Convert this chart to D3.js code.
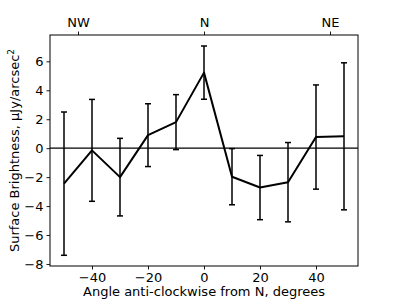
<!DOCTYPE html>
<html>
<head>
<meta charset="utf-8">
<script src="https://cdn.jsdelivr.net/npm/d3@7"></script>
<style>
  body { margin: 0; background: #fff; }
  svg text { font-family: "DejaVu Sans", sans-serif; }
</style>
</head>
<body>
<div id="chart"></div>
<script>
var angles = [-50, -40, -30, -20, -10, 0, 10, 20, 30, 40, 50];
var brightness = [-2.45, -0.15, -2.0, 0.9, 1.8, 5.22, -1.97, -2.72, -2.35, 0.77, 0.82];
var errors = [4.95, 3.52, 2.68, 2.17, 1.9, 1.84, 1.94, 2.22, 2.74, 3.6, 5.08];
var yTicks = [-8, -6, -4, -2, 0, 2, 4, 6];
var xTicks = [-40, -20, 0, 20, 40];
var topTicks = [-45, 0, 45];
var topLabels = ["NW", "N", "NE"];

var w = 399, h = 299;
var margin = {left: 50, right: 41, top: 35, bottom: 33};

var svg = d3.select("#chart").append("svg").attr("width", w).attr("height", h);

var x = d3.scaleLinear().domain([-55, 55]).range([margin.left, w - margin.right]);
var y = d3.scaleLinear().domain([-8.14, 7.82]).range([h - margin.bottom, margin.top]);

var fontSize = "13px";

// zero line
svg.append("line")
    .attr("x1", x(-55)).attr("x2", x(55))
    .attr("y1", y(0)).attr("y2", y(0))
    .attr("stroke", "black").attr("stroke-width", 1.2);

// error bars
var g = svg.append("g");
for (var i = 0; i < angles.length; i++) {
    var cx = x(angles[i]);
    var lo = y(brightness[i] - errors[i]), hi = y(brightness[i] + errors[i]);
    g.append("line").attr("x1", cx).attr("x2", cx).attr("y1", lo).attr("y2", hi)
        .attr("stroke", "black").attr("stroke-width", 1.5);
    g.append("line").attr("x1", cx - 3).attr("x2", cx + 3).attr("y1", lo).attr("y2", lo)
        .attr("stroke", "black").attr("stroke-width", 1.5);
    g.append("line").attr("x1", cx - 3).attr("x2", cx + 3).attr("y1", hi).attr("y2", hi)
        .attr("stroke", "black").attr("stroke-width", 1.5);
}

// line
var line = d3.line().x(function(d, i) { return x(angles[i]); }).y(function(d) { return y(d); });
svg.append("path").datum(brightness)
    .attr("d", line)
    .attr("fill", "none")
    .attr("stroke", "black")
    .attr("stroke-width", 2)
    .attr("stroke-linejoin", "round");

// axes
var minus = function(d) { return d3.format("")(d).replace("-", "\u2212"); };
var bottomAxis = svg.append("g")
    .attr("transform", "translate(0," + y.range()[0] + ")")
    .call(d3.axisBottom(x).tickValues(xTicks).tickSize(3.5).tickPadding(3).tickFormat(minus));
var leftAxis = svg.append("g")
    .attr("transform", "translate(" + x.range()[0] + ",0)")
    .call(d3.axisLeft(y).tickValues(yTicks).tickSize(3.5).tickPadding(3).tickFormat(minus));
var topAxis = svg.append("g")
    .attr("transform", "translate(0," + y.range()[1] + ")")
    .call(d3.axisTop(x).tickValues(topTicks).tickSize(3.5).tickPadding(4.5)
        .tickFormat(function(d, i) { return topLabels[i]; }));

[bottomAxis, leftAxis, topAxis].forEach(function(a) {
    a.selectAll("text").attr("font-size", fontSize).attr("fill", "black")
        .attr("font-family", "DejaVu Sans");
    a.selectAll("line").attr("stroke", "black").attr("stroke-width", 0.9);
    a.select(".domain").remove();
});

// frame
svg.append("rect")
    .attr("x", x.range()[0]).attr("y", y.range()[1])
    .attr("width", x.range()[1] - x.range()[0])
    .attr("height", y.range()[0] - y.range()[1])
    .attr("fill", "none").attr("stroke", "black").attr("stroke-width", 1);

// labels
svg.append("text")
    .attr("x", (x.range()[0] + x.range()[1]) / 2)
    .attr("y", 296)
    .attr("text-anchor", "middle")
    .attr("font-size", fontSize)
    .text("Angle anti-clockwise from N, degrees");

var yl = svg.append("text")
    .attr("transform", "translate(19," + (y.range()[0] + y.range()[1]) / 2 + ") rotate(-90)")
    .attr("text-anchor", "middle")
    .attr("font-size", fontSize);
yl.append("tspan").text("Surface Brightness, \u03bcJy/arcsec");
yl.append("tspan").attr("font-size", "9px").attr("dy", "-5").text("2");
</script>
</body>
</html>
